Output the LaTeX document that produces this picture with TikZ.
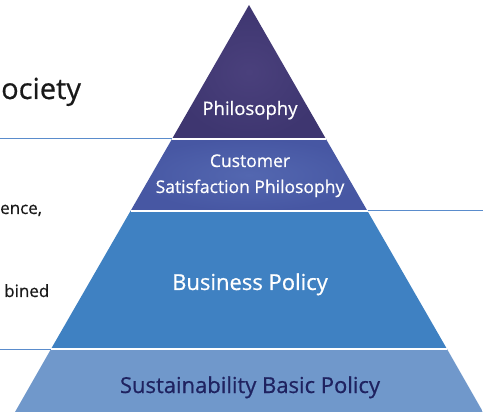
\documentclass[tikz,border=0pt]{standalone}
\usepackage{fontspec}
\setmainfont{Open Sans}[FakeBold=0.6]
\definecolor{tierone}{HTML}{3E3670}
\definecolor{tieronelight}{HTML}{4A407C}
\definecolor{tiertwo}{HTML}{4757A3}
\definecolor{tiertwolight}{HTML}{5367B0}
\definecolor{tierthree}{HTML}{3F81C2}
\definecolor{tierthreelight}{HTML}{4B91D0}
\definecolor{tierfour}{HTML}{7098CB}
\definecolor{tierfourlight}{HTML}{84ADDF}
\definecolor{guideblue}{HTML}{5A8CCC}
\definecolor{navytext}{HTML}{1F2260}
\tikzset{
	sepline/.style={white, line width=1.3pt},
	guideline/.style={guideblue, line width=1pt},
	tiertext/.style={white, inner sep=0pt, anchor=base, align=center},
	sidetext/.style={black!90, inner sep=0pt, anchor=base west}
}
\begin{document}
\begin{tikzpicture}[x=1pt,y=-1pt]
	\useasboundingbox (0,0) rectangle (483,412);

	% Corners of the pyramid
	\coordinate (T) at (249,5); % apex
	\coordinate (L1) at (172,139);
	\coordinate (R1) at (326,139);
	\coordinate (L2) at (130.5,211);
	\coordinate (R2) at (367.5,211);
	\coordinate (L3) at (51,349);
	\coordinate (R3) at (447,349);
	\coordinate (L4) at (15,412);
	\coordinate (R4) at (483,412);

	% Ends of the guide lines
	\coordinate (G1) at (0,139);
	\coordinate (G2) at (483,211);
	\coordinate (G3) at (0,349);

	% Layers, top to bottom
	\shade[inner color=tieronelight, outer color=tierone] (T) -- (R1) -- (L1) -- cycle;
	\shade[inner color=tiertwolight, outer color=tiertwo] (L1) -- (R1) -- (R2) -- (L2) -- cycle;
	\shade[left color=tierthree, middle color=tierthreelight, right color=tierthree] (L2) -- (R2) -- (R3) -- (L3) -- cycle;
	\shade[left color=tierfour, middle color=tierfourlight, right color=tierfour] (L3) -- (R3) -- (R4) -- (L4) -- cycle;

	% White lines between the layers
	\draw[sepline] (L1) -- (R1);
	\draw[sepline] (L2) -- (R2);
	\draw[sepline] (L3) -- (R3);

	% Guide lines out to the sides
	\draw[guideline] (G1) -- (L1);
	\draw[guideline] (R2) -- (G2);
	\draw[guideline] (G3) -- (L3);

	% Labels in the layers
	\node[tiertext, font=\fontsize{18.5}{20}\selectfont] (philosophy) at (250,115) {Philosophy};
	\node[tiertext, font=\fontsize{17.5}{19}\selectfont] (customer) at (250,167) {Customer};
	\node[tiertext, font=\fontsize{17.5}{19}\selectfont] (satisfaction) at (250,193) {Satisfaction Philosophy};
	\node[tiertext, font=\fontsize{22}{24}\selectfont] (business) at (250,290) {Business Policy};
	\node[tiertext, navytext, font=\fontsize{22}{24}\selectfont] (sustainability) at (250,393) {Sustainability Basic Policy};

	% Texts cut at the left edge
	\node[sidetext, font=\fontsize{29}{31}\selectfont] (society) at (1,99) {ociety};
	\node[sidetext, font=\fontsize{17}{19}\selectfont] (excellence) at (0,214) {ence,};
	\node[sidetext, font=\fontsize{17}{19}\selectfont] (combined) at (4,297) {bined};
\end{tikzpicture}
\end{document}
